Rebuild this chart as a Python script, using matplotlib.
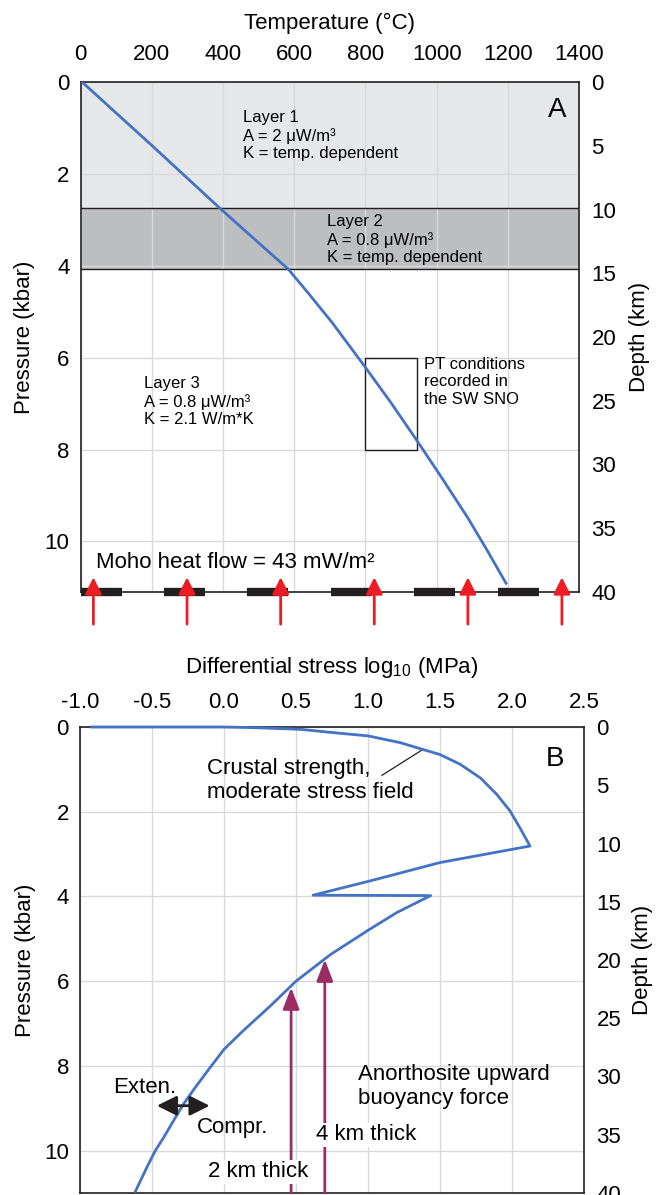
import numpy as np
import matplotlib.pyplot as plt

plt.rcParams['font.family'] = ['Liberation Sans', 'DejaVu Sans']
plt.rcParams['mathtext.fontset'] = 'custom'
plt.rcParams['mathtext.rm'] = 'Liberation Sans'

# ---- panel A : geotherm ----
geo_T = [4, 200, 393, 500, 583, 640, 707, 797, 870, 940, 1015, 1088, 1144, 1195]
geo_P = [0, 1.38, 2.76, 3.5, 4.07, 4.6, 5.24, 6.18, 6.96, 7.75, 8.62, 9.49, 10.22, 10.91]
layer_tops = [0.0, 2.75]
layer_bots = [2.75, 4.07]
layer_cols = ['#e6e7e8', '#bcbec0']
pt_box_T = [800, 945]
pt_box_P = [6.0, 8.0]
moho_dash_start = [0, 233, 467, 702, 937, 1172]
moho_dash_len = 116
heat_arrow_T = [36, 299, 562, 825, 1088, 1352]

# ---- panel B : strength profile ----
stress_x = [-0.92, 0.0, 0.21, 0.531, 0.762, 1.0, 1.224, 1.381, 1.5, 1.64,
            1.78, 1.894, 1.986, 2.055, 2.125, 1.5, 1.018, 0.619, 1.435,
            1.20, 1.0, 0.74, 0.50, 0.32, 0.13, 0.0, -0.097, -0.2,
            -0.281, -0.35, -0.419, -0.477, -0.535, -0.615]
stress_P = [0.0, 0.0, 0.016, 0.055, 0.134, 0.21, 0.37, 0.53, 0.65, 0.88,
            1.2, 1.59, 1.98, 2.38, 2.81, 3.2, 3.63, 3.97, 3.98,
            4.38, 4.80, 5.37, 6.0, 6.59, 7.18, 7.61, 8.04, 8.51,
            8.90, 9.29, 9.69, 10.0, 10.39, 10.96]
buoy_x = [0.466, 0.70]
buoy_tip = [6.15, 5.49]
buoy_lab = ['2 km thick', '4 km thick']

blue = '#4472c4'
red = '#ed1c24'
purple = '#9b2d62'
dark = '#231f20'
fs = 16

fig = plt.figure(figsize=(6.62, 11.95), dpi=100)


def style_axes(ax, ax2, xlab, xpad, title_y, lab_x, dep_x):
    ax.xaxis.tick_top()
    ax.xaxis.set_label_position('top')
    ax.set_xlabel(xlab, fontsize=fs)
    ax.xaxis.set_label_coords(0.5, title_y)
    ax.xaxis.label.set_va('center')
    ax.set_ylabel('Pressure (kbar)', fontsize=fs)
    ax.yaxis.set_label_coords(lab_x, 0.5)
    ax.yaxis.label.set_va('center')
    ax.tick_params(axis='x', length=0, pad=xpad, labelsize=fs)
    ax.tick_params(axis='y', length=0, pad=8.0, labelsize=fs)
    ax.grid(True, color='#d9d9d9', lw=1.0)
    ax.set_axisbelow(True)
    for s in ax.spines.values():
        s.set_color(dark)
        s.set_linewidth(1.2)
    ax2.set_ylim(40, 0)
    ax2.set_yticks(np.arange(0, 41, 5))
    ax2.tick_params(axis='y', length=0, pad=9.0, labelsize=fs)
    ax2.set_ylabel('Depth (km)', fontsize=fs)
    ax2.yaxis.set_label_coords(dep_x, 0.5)
    ax2.yaxis.label.set_va('center')
    for s in ax2.spines.values():
        s.set_visible(False)


# ================= A =================
axA = fig.add_axes([80.6 / 662, 1 - 592 / 1195, 498.4 / 662, 510 / 1195])
axA.set_xlim(0, 1400)
axA.set_ylim(11.1, 0)
axA.set_xticks(np.arange(0, 1401, 200))
axA.set_yticks([0, 2, 4, 6, 8, 10])
axA2 = axA.twinx()
style_axes(axA, axA2, 'Temperature (°C)', 12, 1.114, -0.112, 1.122)

for top, bot, c in zip(layer_tops, layer_bots, layer_cols):
    axA.axhspan(top, bot, color=c, zorder=0.2, lw=0)
for b in [2.75, 4.07]:
    axA.axhline(b, color=dark, lw=1.0, zorder=2)

axA.plot(geo_T, geo_P, color=blue, lw=2, zorder=4)

axA.add_patch(plt.Rectangle((pt_box_T[0], pt_box_P[0]),
                            pt_box_T[1] - pt_box_T[0],
                            pt_box_P[1] - pt_box_P[0],
                            fill=False, ec=dark, lw=1.0, zorder=3))

lfs = 12
axA.text(456, 0.62, 'Layer 1\nA = 2 μW/m³\nK = temp. dependent',
         fontsize=lfs, va='top', ha='left')
axA.text(692, 2.88, 'Layer 2\nA = 0.8 μW/m³\nK = temp. dependent',
         fontsize=lfs, va='top', ha='left')
axA.text(177, 6.4, 'Layer 3\nA = 0.8 μW/m³\nK = 2.1 W/m*K',
         fontsize=lfs, va='top', ha='left')
axA.text(965, 5.98, 'PT conditions\nrecorded in\nthe SW SNO',
         fontsize=lfs, va='top', ha='left')
axA.text(1365, 0.6, 'A', fontsize=20, ha='right', va='center')
axA.text(42, 10.57, 'Moho heat flow = 43 mW/m²', fontsize=fs,
         ha='left', va='baseline')

for s in moho_dash_start:
    axA.plot([s, s + moho_dash_len], [11.1, 11.1], color=dark, lw=6,
             solid_capstyle='butt', clip_on=False, zorder=5)
for t in heat_arrow_T:
    axA.annotate('', xy=(t, 10.78), xytext=(t, 11.8),
                 arrowprops=dict(arrowstyle='-|>,head_length=1.0,head_width=0.5',
                                 color=red, lw=2, mutation_scale=10,
                                 shrinkA=0, shrinkB=0),
                 annotation_clip=False, zorder=6)

# ================= B =================
axB = fig.add_axes([80 / 662, 1 - 1193 / 1195, 504 / 662, 466 / 1195])
axB.set_xlim(-1.0, 2.5)
axB.set_ylim(11.0, 0)
axB.set_xticks(np.arange(-1.0, 2.51, 0.5))
axB.set_xticklabels(['%.1f' % v for v in np.arange(-1.0, 2.51, 0.5)])
axB.set_yticks([0, 2, 4, 6, 8, 10])
axB2 = axB.twinx()
style_axes(axB, axB2, r'Differential stress log$_{\mathregular{10}}$ (MPa)',
           10, 1.127, -0.109, 1.117)

axB.plot(stress_x, stress_P, color=blue, lw=2, zorder=4, clip_on=False)

axB.plot([1.097, 1.381], [1.14, 0.53], color=dark, lw=0.9)
axB.text(-0.12, 0.73, 'Crustal strength,\nmoderate stress field',
         fontsize=fs, ha='left', va='top')
axB.text(2.30, 0.76, 'B', fontsize=20, ha='center', va='center')

axB.annotate('', xy=(-0.466, 8.94), xytext=(-0.10, 8.94),
             arrowprops=dict(arrowstyle='<|-|>,head_length=1.2,head_width=0.6',
                             color=dark, lw=2, mutation_scale=10,
                             shrinkA=0, shrinkB=0), zorder=6)
axB.text(-0.77, 8.65, 'Exten.', fontsize=fs, ha='left', va='baseline')
axB.text(-0.19, 9.58, 'Compr.', fontsize=fs, ha='left', va='baseline')
axB.text(0.93, 7.95, 'Anorthosite upward\nbuoyancy force', fontsize=fs,
         ha='left', va='top')

for x, tip in zip(buoy_x, buoy_tip):
    axB.annotate('', xy=(x, tip), xytext=(x, 11.0),
                 arrowprops=dict(arrowstyle='-|>,head_length=1.3,head_width=0.5',
                                 color=purple, lw=2, mutation_scale=10,
                                 shrinkA=0, shrinkB=0), zorder=5)
axB.text(-0.11, 10.63, buoy_lab[0], fontsize=fs, ha='left', va='baseline',
         bbox=dict(fc='white', ec='none', pad=1), zorder=7)
axB.text(0.64, 9.76, buoy_lab[1], fontsize=fs, ha='left', va='baseline',
         bbox=dict(fc='white', ec='none', pad=1), zorder=7)

fig.savefig('out.png', dpi=100)
